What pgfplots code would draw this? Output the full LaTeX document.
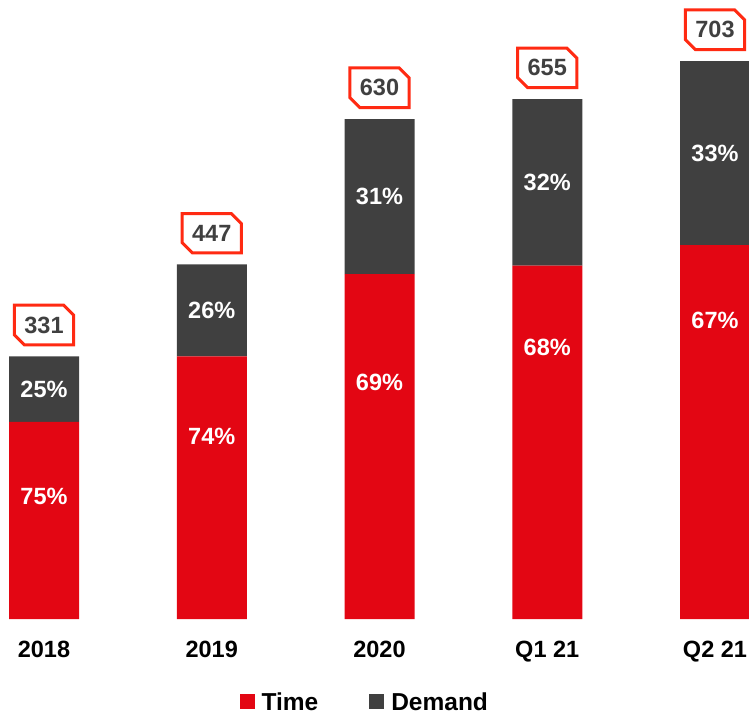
\documentclass[border=0pt]{standalone}
\usepackage{pgfplots}
\pgfplotsset{compat=1.18}
\usepackage{fontspec}
\setmainfont{Liberation Sans}
\usetikzlibrary{shapes.misc}
\definecolor{tred}{HTML}{E30613}
\definecolor{dgray}{HTML}{404040}
\definecolor{boxred}{HTML}{FF2A12}
\newcommand{\lblfont}{\fontsize{23.5bp}{28bp}\selectfont\bfseries}
\newcommand{\legfont}{\fontsize{24.5bp}{29bp}\selectfont\bfseries}
\begin{document}
\begin{tikzpicture}
\pgfplotsset{
  common/.style={
    scale only axis, width=749bp, height=619bp,
    xmin=-0.2623, xmax=4.2027, ymin=0, ymax=780,
    at={(0,0)}, anchor=south west,
  }
}
\begin{axis}[common, ybar stacked, bar width=70bp,
  axis line style={draw=none}, tick style={draw=none}, ytick=\empty,
  xtick={0,1,2,3,4}, xticklabels={2018,2019,2020,Q1 21,Q2 21},
  xticklabel style={font=\lblfont, anchor=base, yshift=-38bp},
  legend style={at={(0.487,-0.134)}, anchor=center, draw=none, fill=none,
    legend columns=2, font=\legfont, text=black, inner sep=0pt,
    /tikz/every even column/.append style={column sep=49bp}},
]
\addplot[fill=tred, draw=none, legend image code/.code={\fill[tred] (0bp,-7.5bp) rectangle (15bp,7.5bp); \path (20bp,0bp);}]
  coordinates {(0,248.25) (1,330.78) (2,434.7) (3,445.4) (4,471.01)};
\addplot[fill=dgray, draw=none, legend image code/.code={\fill[dgray] (0bp,-7.5bp) rectangle (15bp,7.5bp); \path (20bp,0bp);}]
  coordinates {(0,82.75) (1,116.22) (2,195.3) (3,209.6) (4,231.99)};
\legend{Time, Demand}
\end{axis}
\begin{axis}[common, hide axis, clip=false]
\addplot[draw=none, nodes near coords, point meta=explicit symbolic,
  nodes near coords style={anchor=center, text=white, font=\lblfont}]
  coordinates {(0,155.0)[75\%] (1,230.6)[74\%] (2,298.7)[69\%] (3,342.8)[68\%] (4,376.8)[67\%]};
\addplot[draw=none, nodes near coords, point meta=explicit symbolic,
  nodes near coords style={anchor=center, text=white, font=\lblfont}]
  coordinates {(0,289.6)[25\%] (1,388.9)[26\%] (2,532.4)[31\%] (3,550.2)[32\%] (4,587.0)[33\%]};
\addplot[draw=none, nodes near coords, point meta=explicit symbolic,
  nodes near coords style={anchor=south, yshift=10bp, draw=boxred, line width=3bp,
    chamfered rectangle, chamfered rectangle corners={north east, south west},
    chamfered rectangle xsep=5bp, chamfered rectangle ysep=5bp,
    inner xsep=5bp, inner ysep=6.5bp,
    text=dgray, font=\lblfont, fill=white}]
  coordinates {(0,331)[331] (1,447)[447] (2,630)[630] (3,655)[655] (4,703)[703]};
\end{axis}
\pgfresetboundingbox
\path[use as bounding box] (0,-96bp) rectangle (749bp,619bp);
\end{tikzpicture}
\end{document}
